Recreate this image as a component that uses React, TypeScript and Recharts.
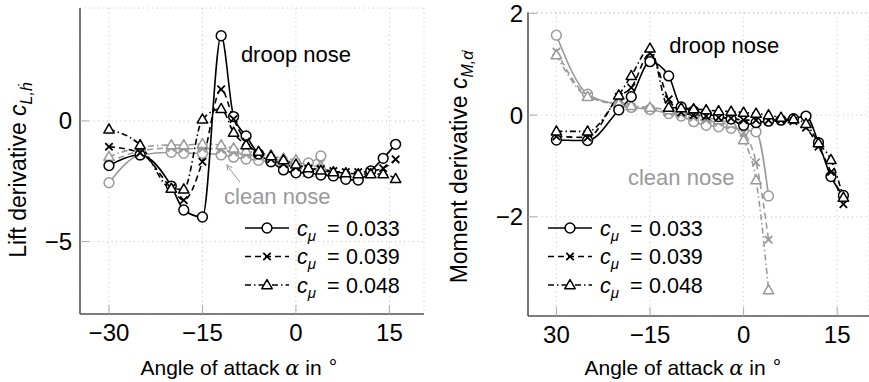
import React from 'react';
import {
  LineChart,
  Line,
  XAxis,
  YAxis,
  CartesianGrid,
  ReferenceDot,
  ReferenceLine,
  Legend,
} from 'recharts';

const FONT = '"Liberation Sans", Arial, Helvetica, sans-serif';
const BLACK = '#000000';
const GREY = '#9a9a9a';
const AXIS = '#555555';

// angle of attack in degrees
const alphaDroop = [-30, -25, -20, -18, -15, -12, -10, -8, -6, -4, -2, 0, 2, 4, 6, 8, 10, 12, 14, 16];
const alphaClean = [-30, -25, -20, -18, -15, -12, -10, -8, -6, -4, -2, 0, 2, 4];

const xTicks = [-30, -15, 0, 15];
const leftXTickLabels = ['\u221230', '\u221215', '0', '15'];
const rightXTickLabels = ['30', '\u221215', '0', '15'];
const liftTicks = [-5, 0];
const liftTickLabels = ['\u22125', '0'];
const momentTicks = [-2, 0, 2];
const momentTickLabels = ['\u22122', '0', '2'];

const cmuLabels = ['0.033', '0.039', '0.048'];

// lift derivative, droop nose
const liftDroop033 = [-1.85, -1.41, -2.7, -3.69, -3.98, 3.53, 0.18, -0.62, -1.37, -1.69, -2.03, -2.15, -2.15, -2.24, -2.28, -2.42, -2.45, -2.07, -1.55, -0.97];
const liftDroop039 = [-1.07, -1.32, -2.78, -3.28, -1.69, 1.31, 0.08, -0.86, -1.35, -1.58, -1.78, -1.93, -1.98, -2.0, -2.08, -2.12, -2.12, -2.08, -1.96, -1.59];
const liftDroop048 = [-0.35, -1.0, -2.8, -2.83, 0.07, 0.5, -0.48, -1.0, -1.27, -1.45, -1.62, -1.8, -1.95, -2.05, -2.12, -2.16, -2.2, -2.2, -2.2, -2.4];

// lift derivative, clean nose
const liftClean033 = [-2.56, -1.41, -1.3, -1.34, -1.34, -1.41, -1.5, -1.58, -1.63, -1.7, -1.77, -1.77, -1.74, -1.45];
const liftClean039 = [-1.7, -1.25, -1.12, -1.15, -1.15, -1.2, -1.3, -1.4, -1.48, -1.55, -1.65, -1.7, -1.95, -1.75];
const liftClean048 = [-1.48, -1.1, -1.0, -1.0, -0.95, -1.0, -1.13, -1.24, -1.34, -1.41, -1.55, -1.62, -2.15, -1.9];

// moment derivative, droop nose
const momDroop033 = [-0.49, -0.5, 0.1, 0.36, 1.05, 0.77, 0.16, 0.08, 0.02, -0.03, -0.08, -0.2, -0.15, -0.12, -0.1, -0.07, -0.02, -0.54, -1.21, -1.58];
const momDroop039 = [-0.42, -0.44, 0.36, 0.54, 1.21, 0.31, 0.05, 0.0, -0.02, -0.05, -0.06, -0.1, -0.1, -0.1, -0.1, -0.12, -0.25, -0.62, -1.12, -1.75];
const momDroop048 = [-0.32, -0.32, 0.39, 0.77, 1.31, 0.15, 0.14, 0.12, 0.1, 0.08, 0.07, 0.05, 0.03, 0.0, -0.05, -0.08, -0.17, -0.55, -0.88, -1.62];

// moment derivative, clean nose
const momClean033 = [1.57, 0.41, 0.2, 0.15, 0.11, 0.03, -0.02, -0.13, -0.2, -0.23, -0.26, -0.3, -0.33, -1.59];
const momClean039 = [1.25, 0.38, 0.2, 0.16, 0.12, 0.06, 0.02, -0.05, -0.1, -0.15, -0.2, -0.35, -0.93, -2.45];
const momClean048 = [1.18, 0.36, 0.22, 0.18, 0.15, 0.1, 0.07, 0.02, -0.04, -0.1, -0.16, -0.49, -1.28, -3.44];

type MarkerKind = 'circle' | 'cross' | 'triangle';

const STYLES: { dash?: string; kind: MarkerKind }[] = [
  { dash: undefined, kind: 'circle' },
  { dash: '6 4', kind: 'cross' },
  { dash: '6 3 1.5 3', kind: 'triangle' },
];

const toPoints = (xs: number[], ys: number[]) => xs.map((a, i) => ({ a, v: ys[i] }));

function Marker({ cx, cy, kind, color }: { cx?: number; cy?: number; kind: MarkerKind; color: string }) {
  if (cx == null || cy == null) return null;
  if (kind === 'circle') {
    return <circle cx={cx} cy={cy} r={4.9} fill="#fff" stroke={color} strokeWidth={1.5} />;
  }
  if (kind === 'cross') {
    const d = 3.7;
    return (
      <path
        d={`M${cx - d},${cy - d}L${cx + d},${cy + d}M${cx - d},${cy + d}L${cx + d},${cy - d}`}
        stroke={color}
        strokeWidth={1.8}
        fill="none"
      />
    );
  }
  return (
    <path
      d={`M${cx},${cy - 5.4}L${cx + 5.2},${cy + 3.7}L${cx - 5.2},${cy + 3.7}Z`}
      fill="#fff"
      stroke={color}
      strokeWidth={1.5}
      strokeLinejoin="round"
    />
  );
}

interface SeriesDef {
  xs: number[];
  ys: number[];
  color: string;
  style: number;
}

const leftSeries: SeriesDef[] = [
  { xs: alphaClean, ys: liftClean033, color: GREY, style: 0 },
  { xs: alphaClean, ys: liftClean039, color: GREY, style: 1 },
  { xs: alphaClean, ys: liftClean048, color: GREY, style: 2 },
  { xs: alphaDroop, ys: liftDroop033, color: BLACK, style: 0 },
  { xs: alphaDroop, ys: liftDroop039, color: BLACK, style: 1 },
  { xs: alphaDroop, ys: liftDroop048, color: BLACK, style: 2 },
];

const rightSeries: SeriesDef[] = [
  { xs: alphaClean, ys: momClean033, color: GREY, style: 0 },
  { xs: alphaClean, ys: momClean039, color: GREY, style: 1 },
  { xs: alphaClean, ys: momClean048, color: GREY, style: 2 },
  { xs: alphaDroop, ys: momDroop033, color: BLACK, style: 0 },
  { xs: alphaDroop, ys: momDroop039, color: BLACK, style: 1 },
  { xs: alphaDroop, ys: momDroop048, color: BLACK, style: 2 },
];

function XTick({ x, y, payload, labels }: any) {
  const idx = xTicks.indexOf(payload.value);
  return (
    <g>
      <line x1={x} x2={x} y1={y} y2={y - 9} stroke="#aaa" strokeWidth={1} />
      <text x={x} y={y + 27} textAnchor="middle" fontSize={24} fill="#000" fontFamily={FONT}>
        {labels[idx]}
      </text>
    </g>
  );
}

function YTick({ x, y, payload, ticks, labels, gap }: any) {
  const idx = ticks.indexOf(payload.value);
  return (
    <g>
      <line x1={x} x2={x + 9} y1={y} y2={y} stroke="#aaa" strokeWidth={1} />
      <text x={x - gap} y={y + 8.5} textAnchor="end" fontSize={24} fill="#000" fontFamily={FONT}>
        {labels[idx]}
      </text>
    </g>
  );
}

function LegendBox() {
  return (
    <svg width={170} height={92} style={{ display: 'block', overflow: 'visible' }}>
      {cmuLabels.map((lab, i) => {
        const y = 14 + i * 28.5;
        const st = STYLES[i];
        return (
          <g key={lab}>
            <line x1={0} x2={44} y1={y} y2={y} stroke={BLACK} strokeWidth={1.6} strokeDasharray={st.dash} />
            <Marker cx={22} cy={y} kind={st.kind} color={BLACK} />
            <text x={52} y={y + 7.5} fontSize={21.5} fontFamily={FONT} fill="#000">
              <tspan fontStyle="italic">c</tspan>
              <tspan fontStyle="italic" fontSize={15} dy={5}>
                μ
              </tspan>
              <tspan x={82} dy={-5}>
                =
              </tspan>
              <tspan x={101}>{lab}</tspan>
            </text>
          </g>
        );
      })}
    </svg>
  );
}

function arrowShape(p: any) {
  const { x1, y1, x2, y2 } = p;
  const ang = Math.atan2(y2 - y1, x2 - x1);
  const h = 6;
  const a1 = ang + Math.PI - 0.45;
  const a2 = ang + Math.PI + 0.45;
  return (
    <g>
      <line x1={x1} y1={y1} x2={x2} y2={y2} stroke={GREY} strokeWidth={1} />
      <path
        d={`M${x2 + h * Math.cos(a1)},${y2 + h * Math.sin(a1)}L${x2},${y2}L${x2 + h * Math.cos(a2)},${y2 + h * Math.sin(a2)}`}
        stroke={GREY}
        strokeWidth={1}
        fill="none"
      />
    </g>
  );
}

interface PanelProps {
  width: number;
  margin: { top: number; right: number; bottom: number; left: number };
  xDomain: [number, number];
  yDomain: [number, number];
  yTicks: number[];
  yTickLabels: string[];
  xTickLabels: string[];
  yTickGap: number;
  series: SeriesDef[];
  yTitle: React.ReactNode;
  yTitleX: number;
  yTitleY: number;
  xTitleX: number;
  droopAt: { x: number; y: number };
  cleanAt: { x: number; y: number };
  arrow?: { x: number; y: number }[];
  legendLeft: number;
}

function Panel(p: PanelProps) {
  return (
    <LineChart width={p.width} height={382} margin={p.margin}>
      <CartesianGrid stroke="#c4c4c4" strokeDasharray="1 3.5" />
      <XAxis
        type="number"
        dataKey="a"
        domain={p.xDomain}
        ticks={xTicks}
        allowDataOverflow
        tickSize={0}
        tickMargin={0}
        tickLine={false}
        axisLine={{ stroke: AXIS, strokeWidth: 1.6 }}
        tick={(t: any) => <XTick {...t} labels={p.xTickLabels} />}
        label={() => (
          <text x={p.xTitleX} y={375} textAnchor="middle" fontSize={21} fontFamily={FONT} fill="#000">
            Angle of attack <tspan fontStyle="italic" fontFamily="DejaVu Serif">α</tspan> in{' '}
            <tspan fontSize={19} dy={-7}>
              ∘
            </tspan>
          </text>
        )}
      />
      <YAxis
        type="number"
        domain={p.yDomain}
        ticks={p.yTicks}
        allowDataOverflow
        tickSize={0}
        tickMargin={0}
        tickLine={false}
        axisLine={{ stroke: AXIS, strokeWidth: 1.6 }}
        tick={(t: any) => <YTick {...t} ticks={p.yTicks} labels={p.yTickLabels} gap={p.yTickGap} />}
        label={() => (
          <text
            transform={`translate(${p.yTitleX},${p.yTitleY}) rotate(-90)`}
            textAnchor="middle"
            fontSize={23}
            fontFamily={FONT}
            fill="#000"
          >
            {p.yTitle}
          </text>
        )}
      />
      {p.series.map((s, i) => {
        const st = STYLES[s.style];
        return (
          <Line
            key={i}
            data={toPoints(s.xs, s.ys)}
            dataKey="v"
            type="monotone"
            stroke={s.color}
            strokeWidth={1.6}
            strokeDasharray={st.dash}
            dot={(d: any) => <Marker key={`m${i}-${d.index}`} cx={d.cx} cy={d.cy} kind={st.kind} color={s.color} />}
            activeDot={false}
            isAnimationActive={false}
          />
        );
      })}
      <ReferenceDot
        x={p.droopAt.x}
        y={p.droopAt.y}
        r={0}
        fill="none"
        stroke="none"
        label={{ value: 'droop nose', position: 'center', fontSize: 22, fill: '#000', fontFamily: FONT }}
      />
      <ReferenceDot
        x={p.cleanAt.x}
        y={p.cleanAt.y}
        r={0}
        fill="none"
        stroke="none"
        label={{ value: 'clean nose', position: 'center', fontSize: 22, fill: GREY, fontFamily: FONT }}
      />
      {p.arrow && <ReferenceLine segment={p.arrow} shape={arrowShape} />}
      <Legend
        layout="horizontal"
        verticalAlign="middle"
        align="center"
        content={() => <LegendBox />}
        wrapperStyle={{ left: p.legendLeft, top: 214, width: 170, height: 92 }}
      />
    </LineChart>
  );
}

export default function App() {
  return (
    <div
      style={{
        position: 'absolute',
        left: 0,
        top: 0,
        width: 869,
        height: 382,
        background: '#fff',
        overflow: 'hidden',
        fontFamily: FONT,
      }}
    >
      <div style={{ position: 'absolute', left: 0, top: 0 }}>
        <Panel
          width={440}
          margin={{ top: 8, right: 16, bottom: 38, left: 20 }}
          xDomain={[-34.65, 20.55]}
          yDomain={[-8, 4.68]}
          yTicks={liftTicks}
          yTickLabels={liftTickLabels}
          xTickLabels={leftXTickLabels}
          yTickGap={8}
          series={leftSeries}
          yTitle={
            <>
              Lift derivative <tspan fontStyle="italic">c</tspan>
              <tspan fontStyle="italic" fontSize={16} dy={6}>
                L,ḣ
              </tspan>
            </>
          }
          yTitleX={26}
          yTitleY={170}
          xTitleX={240}
          droopAt={{ x: 0, y: 2.78 }}
          cleanAt={{ x: -3, y: -3.11 }}
          arrow={[
            { x: -9, y: -2.53 },
            { x: -11.1, y: -1.82 },
          ]}
          legendLeft={245}
        />
      </div>
      <div style={{ position: 'absolute', left: 440, top: 0 }}>
        <Panel
          width={429}
          margin={{ top: 12.3, right: 0, bottom: 36, left: 28 }}
          xDomain={[-34.55, 20.1]}
          yDomain={[-3.95, 2.02]}
          yTicks={momentTicks}
          yTickLabels={momentTickLabels}
          xTickLabels={rightXTickLabels}
          yTickGap={5}
          series={rightSeries}
          yTitle={
            <>
              Moment derivative <tspan fontStyle="italic">c</tspan>
              <tspan fontStyle="italic" fontSize={16} dy={6}>
                M,α̇
              </tspan>
            </>
          }
          yTitleX={27}
          yTitleY={167}
          xTitleX={244}
          droopAt={{ x: -3.1, y: 1.38 }}
          cleanAt={{ x: -10, y: -1.22 }}
          legendLeft={108}
        />
      </div>
    </div>
  );
}
